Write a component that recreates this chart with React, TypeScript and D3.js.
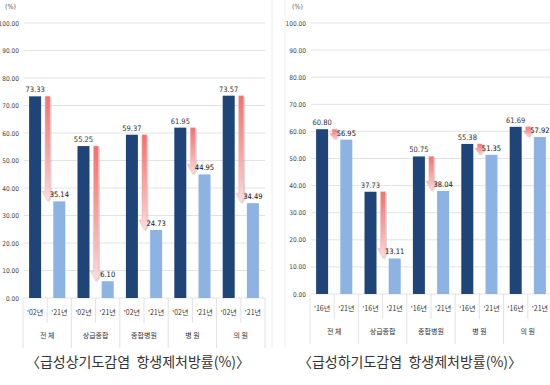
import React from 'react';
import * as d3 from 'd3';

const categories = ['전 체', '상급종합', '종합병원', '병 원', '의 원'];

const upperYears = ["'02년", "'21년"];
const upperBefore = [73.33, 55.25, 59.37, 61.95, 73.57];
const upperAfter = [35.14, 6.1, 24.73, 44.95, 34.49];
const upperTitle = '〈급성상기도감염  항생제처방률(%)〉';

const lowerYears = ["'16년", "'21년"];
const lowerBefore = [60.8, 37.73, 50.75, 55.38, 61.69];
const lowerAfter = [56.95, 13.11, 38.04, 51.35, 57.92];
const lowerTitle = '〈급성하기도감염  항생제처방률(%)〉';

const yTicks = [0, 10, 20, 30, 40, 50, 60, 70, 80, 90, 100];

const DARK = '#1f4478';
const LIGHT = '#8db3e2';
const NUM_FONT = "'Liberation Sans Narrow', 'DejaVu Sans Condensed', sans-serif";
const KR_FONT = "'Noto Sans CJK KR', sans-serif";

interface PanelProps {
    id: string;
    years: string[];
    before: number[];
    after: number[];
    title: string;
    left: number;
    right: number;
    top: number;
    bottom: number;
    titleX: number;
}

const Panel: React.FC<PanelProps> = ({ id, years, before, after, title, left, right, top, bottom, titleX }) => {
    const y = d3.scaleLinear().domain([0, 100]).range([bottom, top]);
    const x = d3.scaleBand<string>().domain(categories).range([left, right]);
    const sub = d3.scaleBand<string>().domain(years).range([0, x.bandwidth()]);
    const barW = 12;

    return (
        <g>
            <defs>
                <linearGradient id={`arrow-${id}`} x1="0" y1="0" x2="0" y2="1">
                    <stop offset="0%" stopColor="#f37070" />
                    <stop offset="75%" stopColor="#f8bcbc" />
                    <stop offset="100%" stopColor="#fbe0e0" />
                </linearGradient>
            </defs>
            <text x={left - 18} y={9} fontSize={7} fill="#555" fontFamily={NUM_FONT}>(%)</text>
            {yTicks.map(t => (
                <g key={t}>
                    <line x1={left + 1} x2={right} y1={y(t)} y2={y(t)} stroke="#e3e3e3" strokeWidth={1} />
                    <text x={left - 4} y={y(t) + 2.5} fontSize={6.5} textAnchor="end" fill="#444" fontFamily={NUM_FONT}>
                        {t.toFixed(2)}
                    </text>
                </g>
            ))}
            {categories.map((c, i) => {
                const gx = x(c)!;
                const cx0 = gx + sub(years[0])! + sub.bandwidth() / 2;
                const cx1 = gx + sub(years[1])! + sub.bandwidth() / 2;
                const y0 = y(before[i]);
                const y1 = y(after[i]);
                const sl = cx0 + barW / 2 + 4;
                const sw = 5;
                const len = y1 - y0;
                const headH = Math.min(10, len * 0.6);
                const headW = len > 20 ? 11 : 10;
                const mid = sl + sw / 2;
                const arrow = [
                    [sl, y0], [sl + sw, y0], [sl + sw, y1 - headH],
                    [mid + headW / 2, y1 - headH], [mid, y1],
                    [mid - headW / 2, y1 - headH], [sl, y1 - headH]
                ];
                const path = d3.line()(arrow as [number, number][]) + 'Z';
                return (
                    <g key={c}>
                        <rect x={cx0 - barW / 2} y={y0} width={barW} height={bottom - y0} fill={DARK} />
                        <rect x={cx1 - barW / 2} y={y1} width={barW} height={bottom - y1} fill={LIGHT} />
                        <path d={path} transform="translate(1.5,1.2)" fill="#999" opacity={0.35} />
                        <path d={path} fill={`url(#arrow-${id})`} stroke="#f0b4b4" strokeWidth={0.5} />
                        <text x={cx0} y={y0 - 4} fontSize={7.5} textAnchor="middle" fill="#333" fontFamily={NUM_FONT}>
                            {before[i].toFixed(2)}
                        </text>
                        <text x={cx1} y={y1 - 4} fontSize={7.5} textAnchor="middle" fill="#111" fontFamily={NUM_FONT}>
                            {after[i].toFixed(2)}
                        </text>
                        <line x1={gx} x2={gx} y1={bottom} y2={bottom + 50} stroke="#e2e2e2" />
                        <line x1={gx + x.bandwidth() / 2} x2={gx + x.bandwidth() / 2} y1={bottom} y2={bottom + 25} stroke="#e2e2e2" />
                        {years.map(yr => (
                            <text key={yr} x={gx + sub(yr)! + sub.bandwidth() / 2} y={bottom + 17} fontSize={7}
                                textAnchor="middle" fill="#333" fontFamily={KR_FONT}>{yr}</text>
                        ))}
                        <text x={gx + x.bandwidth() / 2} y={bottom + 40} fontSize={7} textAnchor="middle" fill="#333"
                            fontFamily={KR_FONT}>{c}</text>
                    </g>
                );
            })}
            <line x1={right} x2={right} y1={bottom} y2={bottom + 50} stroke="#e2e2e2" />
            <text x={titleX} y={367} fontSize={14} textAnchor="middle" fill="#333" fontFamily={KR_FONT}
                style={{ whiteSpace: 'pre' }}>{title}</text>
        </g>
    );
};

const App: React.FC = () => {
    return (
        <svg width={550} height={385} style={{ position: 'absolute', left: 0, top: 0, background: '#fff' }}>
            <rect x={0} y={0} width={550} height={385} fill="#fff" />
            <line x1={272} x2={272} y1={0} y2={348} stroke="#eeeeee" />
            <line x1={285} x2={285} y1={0} y2={348} stroke="#eeeeee" />
            <Panel id="up" years={upperYears} before={upperBefore} after={upperAfter} title={upperTitle}
                left={23} right={265} top={23} bottom={298} titleX={138} />
            <Panel id="low" years={lowerYears} before={lowerBefore} after={lowerAfter} title={lowerTitle}
                left={310} right={552} top={23} bottom={294} titleX={410} />
        </svg>
    );
};

export default App;
